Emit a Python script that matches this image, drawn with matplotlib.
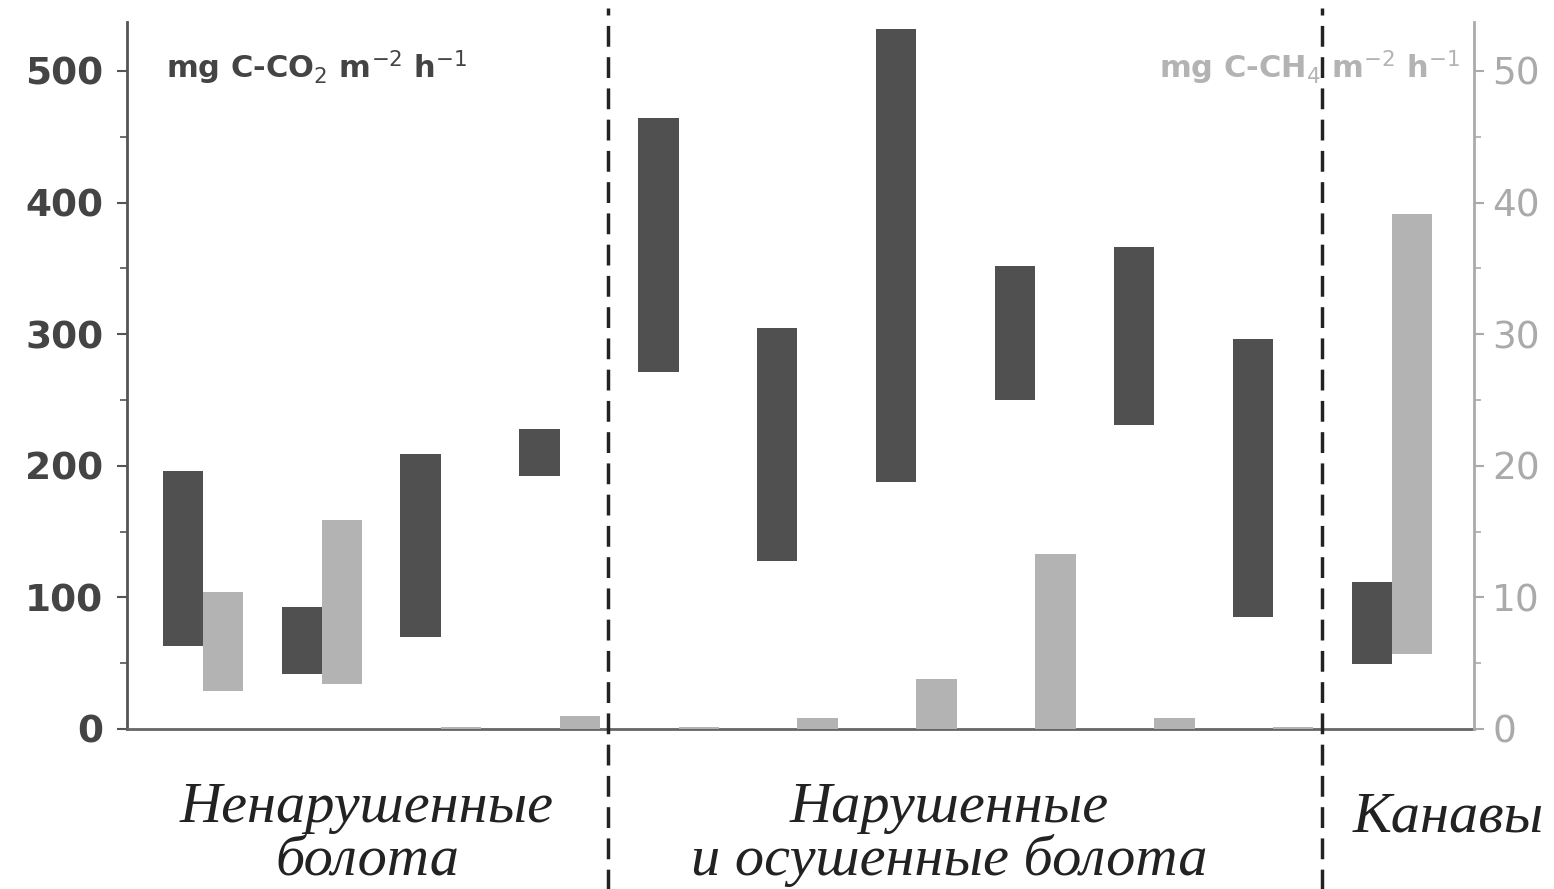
import numpy as np
import matplotlib
matplotlib.use('Agg')
import matplotlib.pyplot as plt
from matplotlib.ticker import MultipleLocator

plt.rcParams['font.family'] = ['DejaVu Sans']

# flux ranges per site (min, max)
co2_lo = [63, 42, 70, 192, 271, 128, 188, 250, 231, 85, 49]
co2_hi = [196, 93, 209, 228, 464, 305, 532, 352, 366, 296, 112]
ch4_lo = [2.9, 3.4, 0.0, 0.0, 0.0, 0.0, 0.0, 0.0, 0.0, 0.0, 5.7]
ch4_hi = [10.4, 15.9, 0.15, 1.0, 0.15, 0.8, 3.8, 13.3, 0.8, 0.15, 39.1]

groups = [['Ненарушенные', 'болота'],
          ['Нарушенные', 'и осушенные болота'],
          ['Канавы']]
group_x = [1.38, 6.28, 10.47]
dividers = [3.41, 9.41]

dark = '#505050'
light = '#b3b3b3'
w = 0.34

fig = plt.figure(figsize=(15.54, 8.89), dpi=100)
ax = fig.add_axes([0.0817, 0.18, 0.8668, 0.795])
ax2 = ax.twinx()

x = np.arange(len(co2_lo))
ax.bar(x - w / 2, np.array(co2_hi) - np.array(co2_lo), bottom=co2_lo,
       width=w, color=dark, zorder=3)
ax2.bar(x + w / 2, np.array(ch4_hi) - np.array(ch4_lo), bottom=ch4_lo,
        width=w, color=light, zorder=3)

ax.set_xlim(-0.64, 10.69)
ax.set_ylim(0, 537)
ax2.set_ylim(0, 53.7)

for a in (ax, ax2):
    a.spines['top'].set_visible(False)
    a.set_xticks([])
ax.spines['right'].set_visible(False)
ax2.spines['left'].set_visible(False)
ax2.spines['bottom'].set_visible(False)
ax.spines['left'].set_color('#555555')
ax.spines['bottom'].set_color('#666666')
ax2.spines['right'].set_color('#aaaaaa')
for s in ('left', 'bottom'):
    ax.spines[s].set_linewidth(2)
ax2.spines['right'].set_linewidth(2)

ax.yaxis.set_major_locator(MultipleLocator(100))
ax.yaxis.set_minor_locator(MultipleLocator(50))
ax2.yaxis.set_major_locator(MultipleLocator(10))
ax2.yaxis.set_minor_locator(MultipleLocator(5))
ax.tick_params(axis='y', which='major', length=7, width=1.5, color='#555555',
               labelcolor='#444444', labelsize=27, pad=10)
ax.tick_params(axis='y', which='minor', length=5, width=1.2, color='#555555')
ax2.tick_params(axis='y', which='major', length=7, width=1.5, color='#aaaaaa',
                labelcolor='#aaaaaa', labelsize=27, pad=6)
ax2.tick_params(axis='y', which='minor', length=5, width=1.2, color='#aaaaaa')
for lab in ax.get_yticklabels():
    lab.set_fontweight('bold')

ax.text(0.029, 0.935, 'mg C-CO$_2$ m$^{-2}$ h$^{-1}$', transform=ax.transAxes,
        fontsize=22, fontweight='bold', color='#444444', va='center')
ax.text(0.99, 0.935, 'mg C-CH$_4$ m$^{-2}$ h$^{-1}$', transform=ax.transAxes,
        fontsize=22, fontweight='bold', color='#b3b3b3', va='center', ha='right')

for d in dividers:
    ax.axvline(d, ymin=-0.24, ymax=1.02, color='#222222', lw=2.5,
               ls=(0, (6, 3)), clip_on=False, zorder=4)

# group names under the axis, one text per line
line_y = [-0.1315, -0.2065]
for gx, g in zip(group_x, groups):
    ys = [-0.1457] if len(g) == 1 else line_y
    for yy, line in zip(ys, g):
        ax.text(gx, yy, line, transform=ax.get_xaxis_transform(), ha='center',
                va='baseline', fontsize=42, style='italic',
                family=['Liberation Serif', 'DejaVu Serif'], color='#222222')

fig.savefig('out.png', dpi=100)
